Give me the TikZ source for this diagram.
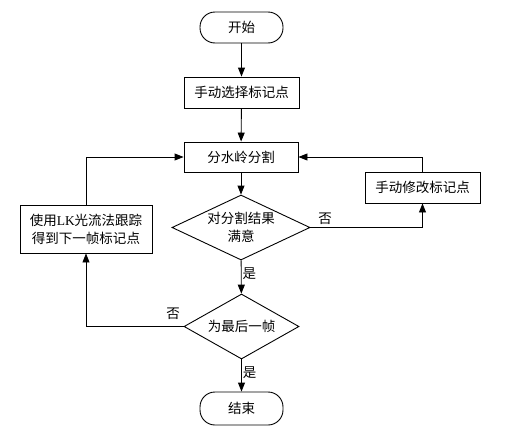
\documentclass[tikz,border=0pt]{standalone}
\usepackage{fontspec}
\setmainfont{Liberation Serif}
\newfontfamily\cjk{Noto Sans CJK SC}
\usetikzlibrary{shapes.geometric,arrows.meta,calc}
\begin{document}
\begin{tikzpicture}[x=1pt,y=-1pt,
  every node/.style={font=\cjk\fontsize{13.5}{18}\selectfont},
  base/.style={draw,line width=0.9pt,inner sep=0pt,align=center},
  term/.style={base,rounded corners=15pt,minimum width=83pt,minimum height=31pt},
  proc/.style={base,rectangle,minimum width=115pt,minimum height=31pt},
  dec/.style={base,diamond,aspect=2.1},
  arr/.style={line width=0.9pt,-{Triangle[length=9pt,width=7pt]}},
  lbl/.style={inner sep=1pt}]
\useasboundingbox (0,0) rectangle (511,434);
\fill[white] (0,0) rectangle (511,434);
\node[term] (start) at (241.5,27.5) {开始};
\node[proc] (sel) at (241.5,92.5) {手动选择标记点};
\node[proc,minimum width=114pt,minimum height=30pt] (seg) at (241,157) {分水岭分割};
\node[dec,minimum width=138pt,minimum height=65pt] (d1) at (241,227.5) {对分割结果\\满意};
\node[proc] (mod) at (422.5,187.5) {手动修改标记点};
\node[proc,minimum width=132pt,minimum height=48pt] (lk) at (86,229) {使用{\rmfamily LK}光流法跟踪\\得到下一帧标记点};
\node[dec,minimum width=115pt,minimum height=65pt] (d2) at (241.5,326.5) {为最后一帧};
\node[term,minimum height=33pt] (stop) at (241.5,408.5) {结束};
\draw[arr] (start) -- (sel);
\draw[arr] (sel) -- (seg);
\draw[arr] (seg) -- (d1);
\draw[arr] (d1) -- node[lbl,right,pos=0.4] {是} (d2);
\draw[arr] (d2) -- node[lbl,right,pos=0.4] {是} (stop);
\draw[arr] (d1.east) -| (mod.south);
\draw[arr] (mod.north) |- (seg.east);
\draw[arr] (d2.west) -| (lk.south);
\draw[arr] (lk.north) |- (seg.west);
\node[lbl] (no1) at (325,219) {否};
\node[lbl] (no2) at (173,314) {否};
\end{tikzpicture}
\end{document}
